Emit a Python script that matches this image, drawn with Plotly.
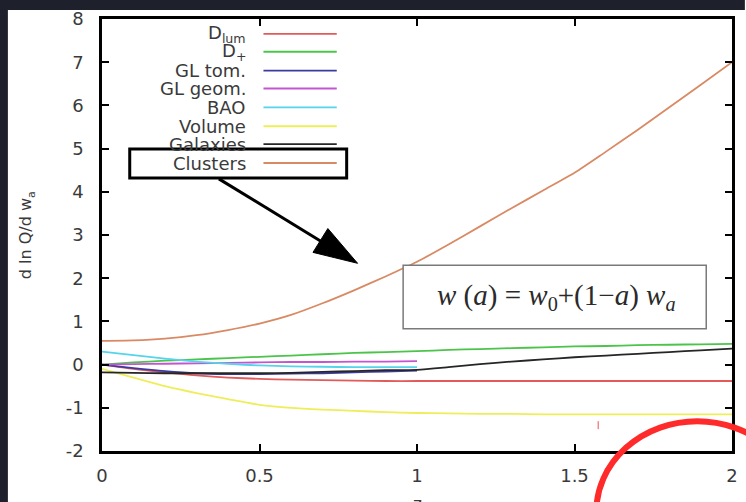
import plotly.graph_objects as go

# ---------------- data ----------------
z_full = [0.0, 0.1, 0.2, 0.3, 0.4, 0.5, 0.6, 0.7, 0.8, 0.9, 1.0,
          1.1, 1.2, 1.3, 1.4, 1.5, 1.6, 1.7, 1.8, 1.9, 2.0]
z_half = [0.0, 0.1, 0.2, 0.3, 0.4, 0.5, 0.6, 0.7, 0.8, 0.9, 1.0]

d_lum = [0.0, -0.1, -0.18, -0.25, -0.3, -0.33, -0.35, -0.36, -0.37, -0.38, -0.38,
         -0.38, -0.38, -0.38, -0.38, -0.38, -0.38, -0.38, -0.38, -0.38, -0.38]
d_plus = [0.0, 0.05, 0.09, 0.12, 0.15, 0.18, 0.21, 0.24, 0.27, 0.29, 0.31,
          0.34, 0.36, 0.38, 0.40, 0.42, 0.43, 0.45, 0.46, 0.47, 0.48]
gl_tom = [0.0, -0.08, -0.15, -0.2, -0.22, -0.22, -0.21, -0.2, -0.18, -0.16, -0.14]
gl_geom = [0.0, 0.01, 0.02, 0.03, 0.04, 0.05, 0.06, 0.06, 0.07, 0.07, 0.08]
bao = [0.3, 0.22, 0.14, 0.07, 0.02, -0.02, -0.04, -0.05, -0.06, -0.06, -0.06]
volume = [-0.1, -0.3, -0.5, -0.66, -0.8, -0.93, -1.0, -1.04, -1.07, -1.1, -1.12,
          -1.13, -1.14, -1.14, -1.15, -1.15, -1.15, -1.15, -1.15, -1.15, -1.15]
galaxies = [-0.18, -0.19, -0.2, -0.2, -0.2, -0.2, -0.19, -0.17, -0.15, -0.13, -0.12,
            -0.06, 0.01, 0.07, 0.12, 0.17, 0.21, 0.25, 0.29, 0.33, 0.37]
clusters = [0.55, 0.56, 0.6, 0.68, 0.8, 0.95, 1.15, 1.42, 1.72, 2.04, 2.38,
            2.78, 3.2, 3.62, 4.03, 4.44, 4.93, 5.43, 5.95, 6.47, 7.0]

series_names = ["D<sub>lum</sub>", "D<sub>+</sub>", "GL tom.", "GL geom.", "BAO",
                "Volume", "Galaxies", "Clusters"]
series_x = [z_full, z_full, z_half, z_half, z_half, z_full, z_full, z_full]
series_y = [d_lum, d_plus, gl_tom, gl_geom, bao, volume, galaxies, clusters]
series_colors = ["#e25a5a", "#4cc44c", "#3a3aa0", "#c455d0", "#55d4ea",
                 "#eeee5a", "#262626", "#d98a64"]

x_ticks = [0, 0.5, 1, 1.5, 2]
x_ticklabels = ["0", "0.5", "1", "1.5", "2"]
y_ticks = [-2, -1, 0, 1, 2, 3, 4, 5, 6, 7, 8]
y_ticklabels = ["-2", "-1", "0", "1", "2", "3", "4", "5", "6", "7", "8"]

# ---------------- geometry helpers (pixel -> paper) ----------------
W, H = 746, 502
L, R, T, B = 102, 738, 16, 451


def px(x):
    return (x - L) / (R - L)


def py(y):
    return (B - y) / (B - T)


fig = go.Figure()
for name, xs, ys, col in zip(series_names, series_x, series_y, series_colors):
    fig.add_trace(go.Scatter(x=xs, y=ys, mode="lines", name=name,
                             line=dict(color=col, width=1.8, shape="spline", smoothing=0.7),
                             showlegend=False))

shapes = []
annotations = []

# dark slide background strips
shapes.append(dict(type="rect", xref="paper", yref="paper", x0=px(-5), x1=px(7),
                   y0=py(510), y1=py(-5), fillcolor="#1e212b", line_width=0, layer="above"))
shapes.append(dict(type="rect", xref="paper", yref="paper", x0=px(-5), x1=px(751),
                   y0=py(7), y1=py(-5), fillcolor="#1e212b", line_width=0, layer="above"))

# key (gnuplot style: label right-aligned, sample to the right)
row_y = [31, 49, 68, 86, 105, 124, 142, 161]
for name, col, yy in zip(series_names, series_colors, row_y):
    annotations.append(dict(x=px(249), y=py(yy), xref="paper", yref="paper", text=name,
                            showarrow=False, xanchor="right", yanchor="middle",
                            font=dict(family="DejaVu Sans", size=18, color="#3a3a3a")))
    shapes.append(dict(type="line", xref="paper", yref="paper", x0=px(265), x1=px(339),
                       y0=py(yy), y1=py(yy), line=dict(color=col, width=1.8)))

# box around "Clusters"
shapes.append(dict(type="rect", xref="paper", yref="paper", x0=px(130), x1=px(349),
                   y0=py(176), y1=py(147), line=dict(color="black", width=3)))

# arrow: shaft + elongated filled head
tip = (360, 262)
tail = (220, 177)
base_c = (322, 239)
c1 = (315, 251)
c2 = (330, 227)
shapes.append(dict(type="line", xref="paper", yref="paper", x0=px(tail[0]), y0=py(tail[1]),
                   x1=px(base_c[0] + 3), y1=py(base_c[1] + 2), line=dict(color="black", width=3)))
shapes.append(dict(type="path", xref="paper", yref="paper",
                   path="M {} {} L {} {} L {} {} Z".format(px(tip[0]), py(tip[1]), px(c1[0]), py(c1[1]),
                                                          px(c2[0]), py(c2[1])),
                   fillcolor="black", line=dict(color="black", width=1)))

# formula box
shapes.append(dict(type="rect", xref="paper", yref="paper", x0=px(406), x1=px(712),
                   y0=py(328), y1=py(264), line=dict(color="#7a7a7a", width=1.5),
                   fillcolor="white"))
annotations.append(dict(x=px(561), y=py(296), xref="paper", yref="paper",
                        text="<i>w</i> (<i>a</i>) = <i>w</i><sub>0</sub>+(1−<i>a</i>) <i>w</i><sub><i>a</i></sub>",
                        showarrow=False, xanchor="center", yanchor="middle",
                        font=dict(family="Liberation Serif", size=29, color="#2a2a2a")))

# axis titles
annotations.append(dict(x=px(26), y=py(234), xref="paper", yref="paper",
                        text="d ln Q/d w<sub>a</sub>", textangle=-90, showarrow=False,
                        xanchor="center", yanchor="middle",
                        font=dict(family="DejaVu Sans", size=16, color="#3a3a3a")))
annotations.append(dict(x=px(421), y=py(492), xref="paper", yref="paper",
                        text="z", showarrow=False, xanchor="center", yanchor="top",
                        font=dict(family="DejaVu Sans", size=17, color="#3a3a3a")))

# red hand-drawn ellipse and small mark
shapes.append(dict(type="circle", xref="paper", yref="paper", x0=px(601), x1=px(805),
                   y0=py(604), y1=py(421), line=dict(color="#ff2a2a", width=6), layer="above"))
shapes.append(dict(type="line", xref="paper", yref="paper", x0=px(603), x1=px(603),
                   y0=py(421), y1=py(429), line=dict(color="#f08a8a", width=1.5)))

axis_common = dict(showline=True, linecolor="black", linewidth=2.5, mirror="ticks",
                   ticks="inside", ticklen=7, tickwidth=2, tickcolor="black",
                   showgrid=False, zeroline=False,
                   tickfont=dict(family="DejaVu Sans", size=18, color="#3a3a3a"))

fig.update_layout(
    width=W, height=H,
    margin=dict(l=L, r=W - R, t=T, b=H - B),
    paper_bgcolor="white", plot_bgcolor="white",
    xaxis=dict(range=[0, 2], tickvals=x_ticks, ticktext=x_ticklabels,
               ticklabelstandoff=7, **axis_common),
    yaxis=dict(range=[-2, 8], tickvals=y_ticks, ticktext=y_ticklabels,
               ticklabelstandoff=12, **axis_common),
    shapes=shapes, annotations=annotations,
)

fig.write_html("out.html")
